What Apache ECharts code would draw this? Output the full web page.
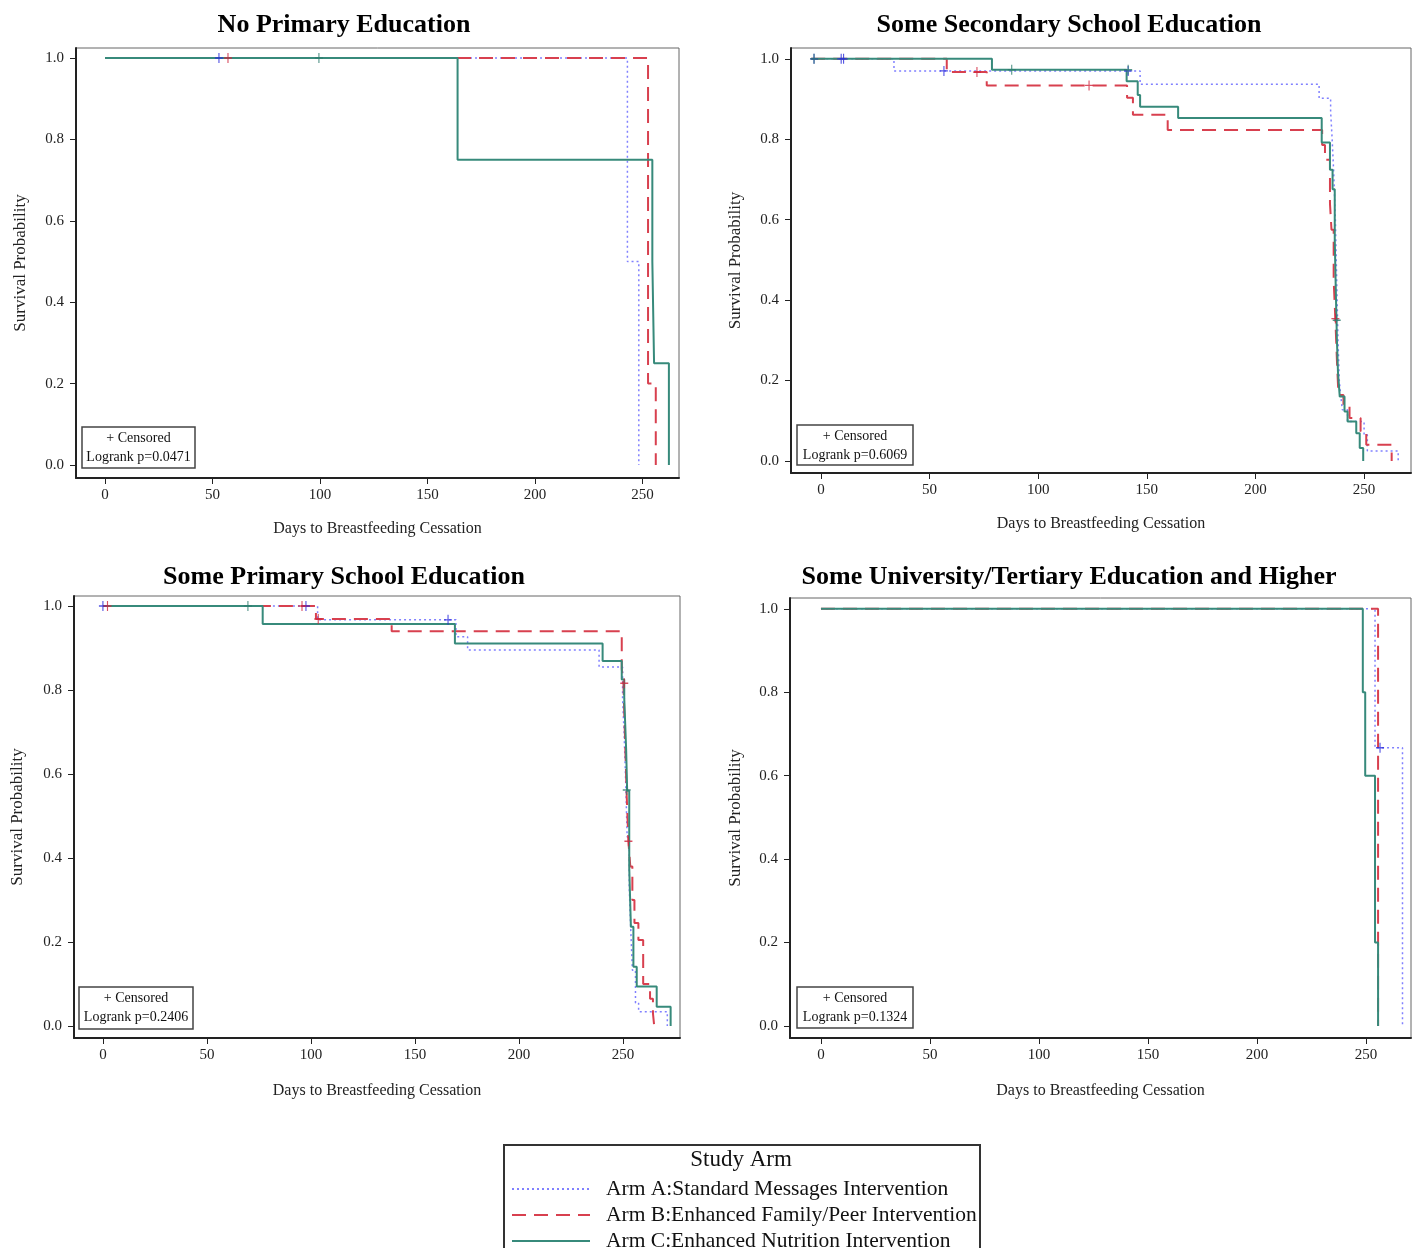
<!DOCTYPE html>
<html>
<head>
<meta charset="utf-8">
<script src="https://cdn.jsdelivr.net/npm/echarts@6/dist/echarts.min.js"></script>
<style>
  html, body { margin: 0; padding: 0; background: #fff; }
  #chart { width: 1419px; height: 1248px; }
</style>
</head>
<body>
<div id="chart"></div>
<script>
// step points: [day, survival after the drop]
const noPrimA = [[0, 1], [243, 0.5], [248.3, 0]]
const noPrimB = [[0, 1], [252.6, 0.2], [256.2, 0]]
const noPrimC = [[0, 1], [164, 0.75], [254.6, 0.5], [255.4, 0.25], [262.3, 0]]
const noPrimCensA = [[53, 1]]
const noPrimCensB = [[57.2, 1]]
const noPrimCensC = [[99.5, 1]]

const secA = [[-4.5, 1], [33.6, 0.97], [146.9, 0.937], [229.3, 0.902], [234.6, 0.87], [235.3, 0.8],
  [236, 0.72], [236.8, 0.6], [237.4, 0.45], [238, 0.3], [238.6, 0.2], [239.3, 0.16], [240, 0.127],
  [242.4, 0.098], [250, 0.065], [251.5, 0.025], [265.7, 0]]
const secB = [[-4.5, 1], [57.9, 0.967], [76.3, 0.934], [140.9, 0.903], [143.6, 0.861], [159.6, 0.823],
  [230.7, 0.786], [232, 0.749], [234.3, 0.64], [235, 0.575], [236, 0.45], [236.8, 0.35], [237.5, 0.25],
  [238.2, 0.164], [240.5, 0.135], [243.3, 0.107], [248.4, 0.073], [251, 0.04], [262.7, 0]]
const secC = [[-4.5, 1], [78.7, 0.973], [140.7, 0.944], [145.8, 0.91], [146.9, 0.881], [164.4, 0.853],
  [230.5, 0.792], [234.3, 0.724], [235.5, 0.676], [236.5, 0.55], [237, 0.42], [237.5, 0.3], [238, 0.219],
  [238.8, 0.16], [241, 0.123], [242.4, 0.098], [246.4, 0.069], [248, 0.032], [249.6, 0]]
const secCensA = [[-3.2, 1], [9.3, 1], [10.4, 1], [56.6, 0.97], [141.4, 0.97]]
const secCensB = [[71.8, 0.967], [123.4, 0.934], [236.8, 0.354]]
const secCensC = [[-3.2, 1], [87.8, 0.973], [141.4, 0.973], [237.4, 0.35]]

const priA = [[0, 1], [103.2, 0.967], [169.7, 0.927], [175.3, 0.895], [238.5, 0.855], [249.8, 0.78],
  [250.5, 0.7], [251.3, 0.58], [252, 0.45], [253, 0.33], [253.8, 0.22], [254.5, 0.133], [256, 0.055],
  [257.5, 0.034], [271.3, 0]]
const priB = [[0, 1], [102.4, 0.969], [138.8, 0.94], [249.4, 0.85], [250.2, 0.816], [251, 0.68],
  [251.8, 0.546], [252.6, 0.44], [253.5, 0.38], [254.5, 0.3], [255.5, 0.245], [257.4, 0.205],
  [259.7, 0.1], [263, 0.065], [264.4, 0.03], [265, 0]]
const priC = [[0, 1], [76.8, 0.957], [169.2, 0.911], [240.2, 0.869], [249.4, 0.825], [250.6, 0.78],
  [251.5, 0.66], [252, 0.56], [253, 0.376], [253.8, 0.236], [255, 0.141], [256.6, 0.094],
  [266.2, 0.046], [272.9, 0]]
const priCensA = [[0, 1], [97.6, 1], [165.9, 0.967]]
const priCensB = [[2.2, 1], [95.7, 1], [103.5, 0.969], [250.6, 0.816], [252.6, 0.44]]
const priCensC = [[69.7, 1], [251.8, 0.562]]

const uniA = [[0, 1], [254.1, 0.667], [266.7, 0]]
const uniB = [[0, 1], [255.5, 0]]
const uniC = [[0, 1], [248.5, 0.8], [249.6, 0.6], [254.1, 0.2], [255.5, 0]]
const uniCensA = [[256.4, 0.667]]
const uniCensB = []
const uniCensC = []

const armNames = ['Arm A:Standard Messages Intervention', 'Arm B:Enhanced Family/Peer Intervention',
  'Arm C:Enhanced Nutrition Intervention']
const panelTitles = ['No Primary Education', 'Some Secondary School Education',
  'Some Primary School Education', 'Some University/Tertiary Education and Higher']
const pValues = ['0.0471', '0.6069', '0.2406', '0.1324']
const xTicks = [0, 50, 100, 150, 200, 250]
const yTicks = [0, 0.2, 0.4, 0.6, 0.8, 1.0]

const curves = [[noPrimA, noPrimB, noPrimC], [secA, secB, secC], [priA, priB, priC], [uniA, uniB, uniC]]
const censors = [[noPrimCensA, noPrimCensB, noPrimCensC], [secCensA, secCensB, secCensC],
  [priCensA, priCensB, priCensC], [uniCensA, uniCensB, uniCensC]]

// layout of each panel: grid box, axis ranges, name gaps, title centre, censor box
const layout = [
  { box: [76, 48, 603, 430], x: [-13.5, 267], y: [-0.032, 1.0246], xGap: 43, yGap: 47, tc: [344, 25], cb: [82, 427, 113, 41] },
  { box: [791, 48, 620, 425], x: [-13.8, 271.6], y: [-0.03, 1.027], xGap: 43, yGap: 47, tc: [1069, 25], cb: [797, 425, 116, 40] },
  { box: [74, 596, 606, 442], x: [-13.9, 277.4], y: [-0.0286, 1.0238], xGap: 45, yGap: 48, tc: [344, 577], cb: [79, 987, 114, 42] },
  { box: [790, 598, 621, 440], x: [-14.2, 270.6], y: [-0.0288, 1.026], xGap: 45, yGap: 46, tc: [1069, 577], cb: [797, 987, 116, 41] }
]

const serif = '"Liberation Serif", "Times New Roman", serif'
const lineColors = ['#8080ff', '#d8404f', '#378a7b']
const markColors = ['#2b2bdc', '#d0243c', '#2d7c6e']
const lineStyles = [
  { color: lineColors[0], width: 1.5, type: [2, 3] },
  { color: lineColors[1], width: 2, type: [14, 8] },
  { color: lineColors[2], width: 2, type: 'solid' }
]
const plusPath = 'path://M4.3,0H5.7V4.3H10V5.7H5.7V10H4.3V5.7H0V4.3H4.3Z'

const chart = echarts.init(document.getElementById('chart'))

let grids = [], xAxes = [], yAxes = [], series = [], graphics = []
layout.forEach((p, i) => {
  grids.push({ left: p.box[0], top: p.box[1], width: p.box[2], height: p.box[3],
    show: true, borderColor: '#666', borderWidth: 1 })
  xAxes.push({
    type: 'value', gridIndex: i, min: p.x[0], max: p.x[1],
    name: 'Days to Breastfeeding Cessation', nameLocation: 'middle', nameGap: p.xGap,
    nameTextStyle: { fontFamily: serif, fontSize: 16, color: '#222' },
    axisLine: { onZero: false, lineStyle: { color: '#222', width: 2 } },
    axisTick: { show: true, length: 6, customValues: xTicks, lineStyle: { color: '#222' } },
    axisLabel: { customValues: xTicks, margin: 10, fontFamily: serif, fontSize: 15, color: '#222' },
    splitLine: { show: false }
  })
  yAxes.push({
    type: 'value', gridIndex: i, min: p.y[0], max: p.y[1],
    name: 'Survival Probability', nameLocation: 'middle', nameGap: p.yGap,
    nameTextStyle: { fontFamily: serif, fontSize: 17, color: '#222' },
    axisLine: { onZero: false, lineStyle: { color: '#222', width: 2 } },
    axisTick: { show: true, length: 6, customValues: yTicks, lineStyle: { color: '#222' } },
    axisLabel: { customValues: yTicks, margin: 12, fontFamily: serif, fontSize: 15, color: '#222',
      formatter: v => v.toFixed(1) },
    splitLine: { show: false }
  })
  curves[i].forEach((d, k) => {
    series.push({
      name: armNames[k], type: 'line', step: 'end', data: d, xAxisIndex: i, yAxisIndex: i,
      symbol: 'none', lineStyle: lineStyles[k], itemStyle: { color: lineColors[k] }, z: 2 + k
    })
  })
  censors[i].forEach((d, k) => {
    series.push({
      name: 'cens' + i + k, type: 'scatter', data: d, xAxisIndex: i, yAxisIndex: i,
      symbol: plusPath, symbolSize: [8, 10], itemStyle: { color: markColors[k] }, z: 6
    })
  })
  graphics.push({
    type: 'text', x: p.tc[0], y: p.tc[1],
    style: { text: panelTitles[i], font: 'bold 26px ' + serif, fill: '#000',
      textAlign: 'center', textVerticalAlign: 'middle' }
  })
  const b = p.cb
  graphics.push({
    type: 'rect', shape: { x: b[0], y: b[1], width: b[2], height: b[3] },
    style: { fill: '#fff', stroke: '#444', lineWidth: 1.5 }, z: 10
  })
  graphics.push({
    type: 'text', x: b[0] + b[2] / 2, y: b[1] + 11, z: 11,
    style: { text: '+ Censored', font: '14px ' + serif, fill: '#111',
      textAlign: 'center', textVerticalAlign: 'middle' }
  })
  graphics.push({
    type: 'text', x: b[0] + b[2] / 2, y: b[1] + 30, z: 11,
    style: { text: 'Logrank p=' + pValues[i], font: '14px ' + serif, fill: '#111',
      textAlign: 'center', textVerticalAlign: 'middle' }
  })
})

graphics.push({
  type: 'rect', shape: { x: 504, y: 1145, width: 476, height: 120 },
  style: { fill: 'none', stroke: '#333', lineWidth: 2 }
})
graphics.push({
  type: 'text', x: 741, y: 1160,
  style: { text: 'Study Arm', font: '23px ' + serif, fill: '#111',
    textAlign: 'center', textVerticalAlign: 'middle' }
})

chart.setOption({
  backgroundColor: '#fff',
  animation: false,
  grid: grids,
  xAxis: xAxes,
  yAxis: yAxes,
  series: series,
  graphic: graphics,
  legend: {
    data: armNames, orient: 'vertical', left: 506, top: 1173, height: 120,
    itemWidth: 78, itemHeight: 14, itemGap: 4, selectedMode: false,
    itemStyle: { opacity: 0 },
    textStyle: { fontFamily: serif, fontSize: 21.5, lineHeight: 20, color: '#111', padding: [0, 0, 0, 11] }
  }
})
</script>
</body>
</html>
